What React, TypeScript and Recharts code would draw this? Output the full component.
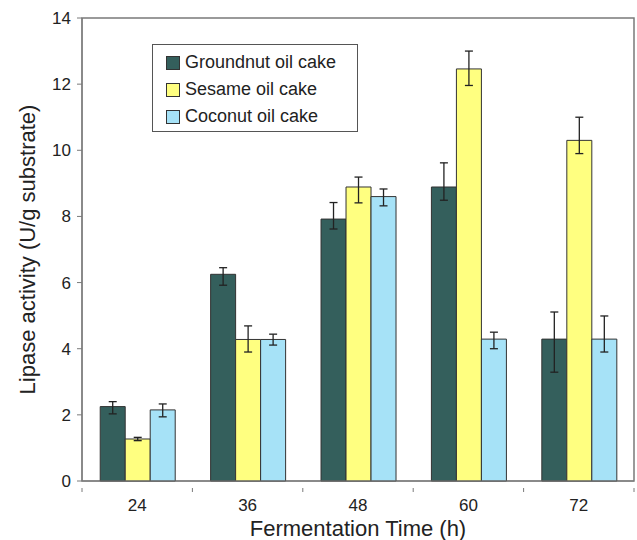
import React from "react";
import {
  Bar,
  BarChart,
  ErrorBar,
  Legend,
  ReferenceArea,
  XAxis,
  YAxis,
} from "recharts";

const hours = ["24", "36", "48", "60", "72"];
const groundnut = [2.25, 6.25, 7.92, 8.89, 4.29];
const sesame = [1.27, 4.28, 8.89, 12.46, 10.3];
const coconut = [2.15, 4.28, 8.6, 4.29, 4.29];
// [below, above] error offsets
const groundnutErr = [[0.22, 0.15], [0.33, 0.2], [0.3, 0.5], [0.4, 0.73], [1.0, 0.82]];
const sesameErr = [[0.05, 0.05], [0.38, 0.41], [0.48, 0.3], [0.5, 0.54], [0.4, 0.7]];
const coconutErr = [[0.21, 0.18], [0.17, 0.16], [0.28, 0.23], [0.29, 0.21], [0.39, 0.7]];
const yTicks = [0, 2, 4, 6, 8, 10, 12, 14];

const series = [
  { key: "groundnut", err: "groundnutErr", name: "Groundnut oil cake", color: "#345f5c" },
  { key: "sesame", err: "sesameErr", name: "Sesame oil cake", color: "#ffff80" },
  { key: "coconut", err: "coconutErr", name: "Coconut oil cake", color: "#a6e2f7" },
];

const data = hours.map((h, i) => ({
  hour: h,
  groundnut: groundnut[i],
  sesame: sesame[i],
  coconut: coconut[i],
  groundnutErr: groundnutErr[i],
  sesameErr: sesameErr[i],
  coconutErr: coconutErr[i],
}));

const FONT = "'Liberation Sans', Arial, sans-serif";
const AXIS = "#7a7a7a";

function XTick(props: any) {
  const { x, y, payload, index, width } = props;
  const band = (width || 552) / hours.length;
  const left = x - band / 2;
  return (
    <g>
      <line x1={left} y1={y - 1} x2={left} y2={y + 3} stroke={AXIS} />
      {index === hours.length - 1 && (
        <line x1={left + band} y1={y - 1} x2={left + band} y2={y + 3} stroke={AXIS} />
      )}
      <text x={x} y={y + 22} textAnchor="middle" fontSize={17} fill="#222" fontFamily={FONT}>
        {payload.value}
      </text>
    </g>
  );
}

function LegendBox() {
  return (
    <div
      style={{
        border: "1px solid #555",
        background: "#fff",
        padding: "4px 0 6px 13px",
        fontFamily: FONT,
        fontSize: 18,
        color: "#222",
        boxSizing: "border-box",
        height: 88,
      }}
    >
      {series.map((s) => (
        <div key={s.key} style={{ display: "flex", alignItems: "center", height: 27 }}>
          <span
            style={{
              display: "inline-block",
              width: 12,
              height: 12,
              background: s.color,
              border: "1px solid #333",
              marginRight: 5,
            }}
          />
          {s.name}
        </div>
      ))}
    </div>
  );
}

export default function App() {
  document.body.style.margin = "0";
  return (
    <div style={{ width: 637, height: 540, background: "#fff" }}>
      <BarChart
        width={637}
        height={540}
        data={data}
        margin={{ top: 18, right: 3, left: 0, bottom: 0 }}
        barCategoryGap="16.5%"
        barGap={0}
      >
        <ReferenceArea y1={0} y2={14} fill="none" stroke={AXIS} strokeWidth={1.5} />
        <XAxis
          dataKey="hour"
          height={59}
          stroke={AXIS}
          tickLine={false}
          tick={<XTick />}
          interval={0}
          label={{
            value: "Fermentation Time (h)",
            position: "insideBottom",
            offset: 4,
            fontSize: 22,
            fill: "#222",
            fontFamily: FONT,
          }}
        />
        <YAxis
          width={82}
          domain={[0, 14]}
          ticks={yTicks}
          stroke={AXIS}
          tickSize={5}
          tickMargin={6}
          tick={{ fontSize: 17, fill: "#222", fontFamily: FONT }}
          label={{
            value: "Lipase activity (U/g substrate)",
            angle: -90,
            position: "insideLeft",
            offset: 27,
            style: { textAnchor: "middle" },
            fontSize: 22,
            fill: "#222",
            fontFamily: FONT,
          }}
        />
        <Legend
          layout="vertical"
          align="center"
          verticalAlign="middle"
          wrapperStyle={{ left: 152, top: 44, width: 206 }}
          content={<LegendBox />}
        />
        {series.map((s) => (
          <Bar
            key={s.key}
            dataKey={s.key}
            name={s.name}
            fill={s.color}
            stroke="#333"
            strokeWidth={1}
            isAnimationActive={false}
          >
            <ErrorBar dataKey={s.err} width={4} stroke="#222" strokeWidth={1.3} direction="y" />
          </Bar>
        ))}
      </BarChart>
    </div>
  );
}
